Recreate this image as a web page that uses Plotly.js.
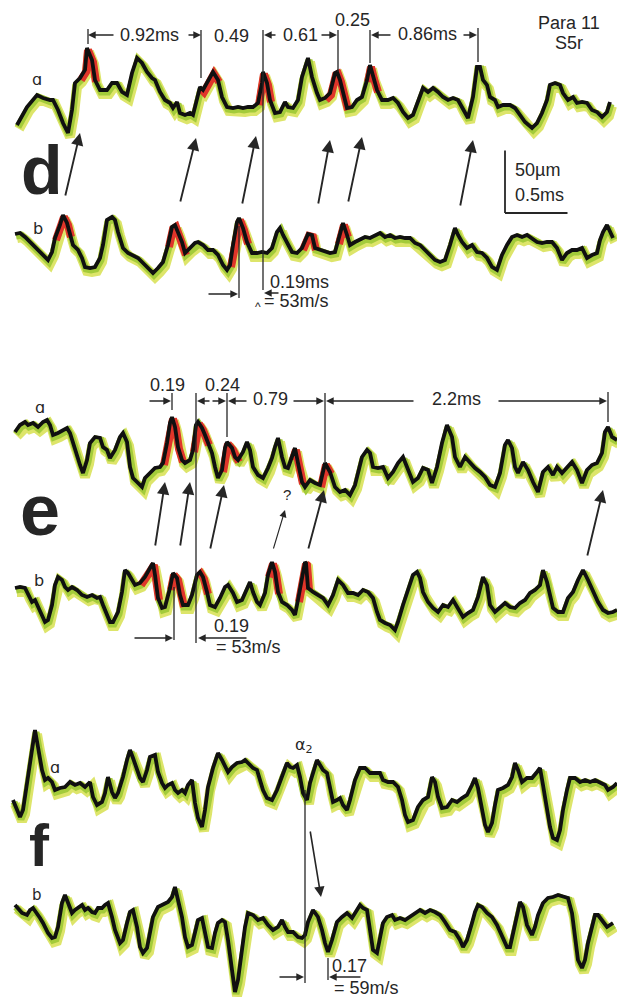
<!DOCTYPE html>
<html><head><meta charset="utf-8">
<script src="https://cdn.plot.ly/plotly-3.0.1.min.js"></script>
<style>html,body{margin:0;padding:0;background:#fff}#chart{width:617px;height:997px}</style>
</head><body><div id="chart"></div>
<script>
// ---- Data: time in microseconds, displacement in micrometres ----
// Panel d, trace a
const t_dA = [136,216,296,344,400,424,464,504,544,576,600,640,680,696,736,760,800,856,896,936,976,1016,1056,1096,1136,1176,1216,1240,1280,1320,1360,1384,1416,1440,1480,1520,1544,1576,1600,1624,1656,1704,1744,1776,1816,1864,1904,1944,1984,2024,2064,2096,2104,2136,2160,2200,2240,2280,2304,2344,2384,2416,2464,2496,2536,2560,2600,2640,2680,2696,2720,2744,2776,2816,2856,2896,2936,2960,2984,3016,3056,3104,3144,3184,3224,3264,3304,3344,3384,3424,3464,3504,3544,3584,3624,3664,3704,3744,3784,3816,3840,3864,3896,3920,3960,3984,4024,4080,4120,4160,4200,4256,4296,4336,4376,4400,4440,4480,4504,4544,4584,4616,4656,4696,4736,4776,4816,4856,4880];
const v_dA = [-20,-5.6,4,1.6,0,0,-8,-18.4,-26.4,-8,13.6,17.6,24,41.6,32,16,8,8,13.6,13.6,6.4,4,21.6,33.6,29.6,22.4,17.6,16,6.4,0,-2.4,-6.4,-1.6,-10.4,-12,-10.4,-12,0,10.4,8,13.6,22.4,16,2.4,-5.6,-6.4,-5.6,-6.4,-5.6,-5.6,-2.4,13.6,22.4,13.6,0,-10.4,-9.6,-1.6,-5.6,-6.4,0,18.4,33.6,18.4,5.6,0,1.6,5.6,21.6,22.4,16,5.6,-6.4,-5.6,0,2.4,16,28,18.4,8,0,0,1.6,-2.4,-9.6,-14.4,-12,0,9.6,6.4,9.6,6.4,2.4,0,1.6,0,-8,-14.4,2.4,26.4,26.4,16,12,2.4,0,-5.6,-4,-4,-6.4,-12,-17.6,-22.4,-18.4,-10.4,0,12,13.6,12,5.6,0,2.4,-2.4,-1.6,-2.4,-8,-9.6,-13.6,-9.6,-1.6];
const red_dA = [[608,768],[1584,1760],[2056,2168],[2600,2776],[2920,3040]];
// Panel d, trace b
const t_dB = [120,160,200,240,296,344,384,416,440,480,504,536,560,584,624,656,680,720,760,800,824,856,896,920,944,984,1024,1064,1104,1144,1184,1224,1264,1304,1344,1376,1400,1424,1456,1480,1520,1560,1584,1624,1664,1704,1744,1784,1816,1840,1864,1896,1912,1944,1976,2016,2056,2096,2136,2176,2216,2240,2264,2296,2336,2376,2416,2464,2496,2520,2560,2600,2640,2680,2704,2744,2776,2800,2840,2880,2920,2960,3000,3040,3080,3120,3160,3200,3240,3280,3320,3360,3400,3440,3480,3520,3560,3600,3640,3664,3696,3736,3776,3816,3856,3896,3936,3976,4016,4056,4096,4136,4176,4216,4256,4296,4336,4376,4416,4456,4496,4536,4576,4616,4656,4696,4736,4776,4800,4824,4856,4880,4904];
const v_dB = [8.8,9.6,6.4,2.4,-2.4,-8,-12,-5.6,5.6,16,24,17.6,8,0,-4,-10.4,-17.6,-18.4,-17.6,-10.4,0,20,22.4,20,10.4,-2.4,-6.4,-8,-10.4,-14.4,-18.4,-22.4,-18.4,-13.6,0,14.4,16,10.4,2.4,-6.4,-2.4,1.6,2.4,0,-4,-4,-8,-16,-20,-16,0,18.4,21.6,13.6,2.4,-6.4,-6.4,-5.6,-6.4,-2.4,10.4,13.6,8,1.6,-5.6,-6.4,-2.4,8.8,8,-2.4,-4,-5.6,-6.4,-5.6,2.4,17.6,8,0,2.4,4,6.4,5.6,8,9.6,6.4,8,5.6,6.4,5.6,5.6,1.6,0,-4,-8,-12,-13.6,-12,0,13.6,8,2.4,-2.4,0,-5.6,-6.4,-10.4,-17.6,-20,-8,0,6.4,8,6.4,8,5.6,2.4,1.6,2.4,2.4,-2.4,-12,-6.4,-4,-4,-2.4,-10.4,-8,-6.4,4,10.4,16,10.4,5.6];
const red_dB = [[440,560],[1344,1480],[1840,2000],[2384,2520],[2704,2784]];
// Panel e, trace a
const t_eA = [120,160,200,224,264,304,344,376,400,424,464,504,536,560,600,640,664,696,720,760,800,824,856,880,920,960,984,1016,1040,1064,1104,1136,1160,1200,1240,1280,1304,1336,1360,1376,1400,1424,1456,1480,1520,1544,1568,1584,1616,1640,1664,1696,1720,1744,1776,1800,1816,1856,1880,1904,1944,1976,2000,2024,2064,2104,2144,2176,2200,2224,2256,2280,2304,2336,2360,2384,2416,2440,2464,2480,2520,2560,2600,2640,2680,2720,2760,2800,2840,2864,2896,2936,2960,2984,3024,3064,3104,3144,3184,3224,3264,3304,3344,3384,3424,3456,3496,3536,3576,3616,3640,3680,3720,3760,3800,3840,3880,3920,3960,4000,4040,4064,4096,4120,4144,4184,4224,4264,4304,4344,4384,4424,4456,4496,4536,4576,4616,4656,4696,4736,4776,4816,4840,4864,4896,4936];
const v_eA = [22.4,28,30.4,28,29.6,26.4,30.4,32,28,20,21.6,24,25.6,21.6,8,-4,-10.4,0,13.6,18.4,17.6,10.4,8,1.6,8,18.4,21.6,14.4,-5.6,-14.4,-18.4,-21.6,-14.4,-10.4,-6.4,-5.6,-2.4,13.6,29.6,34.4,26.4,10.4,0,-2.4,0,8,28,30.4,25.6,20,13.6,5.6,-5.6,-14.4,-8,9.6,14.4,9.6,2.4,0,6.4,14.4,8,-5.6,-12,-14.4,-6.4,1.6,10.4,17.6,2.4,-5.6,-6.4,1.6,9.6,-2.4,-17.6,-21.6,-18.4,-16,-18.4,-20,-2.4,-9.6,-21.6,-25.6,-24,-28,-20,-10.4,2.4,8,5.6,-5.6,-6.4,-5.6,-14.4,-9.6,-2.4,2.4,-8,-17.6,-14.4,-6.4,-8,-18.4,-5.6,13.6,28,18.4,2.4,-5.6,2.4,-2.4,-6.4,-9.6,-13.6,-20,-21.6,-10.4,12,16,9.6,-5.6,-10.4,-1.6,-8,-17.6,-25.6,-9.6,-5.6,-12,-5.6,-10.4,-5.6,-1.6,-8,-18.4,-8,-4,-2.4,5.6,22.4,26.4,18.4,16];
const red_eA = [[1304,1456],[1544,1680],[1776,1904],[2320,2424],[2544,2664]];
// Panel e, trace b
const t_eB = [120,160,200,224,256,280,304,336,360,384,416,440,464,496,520,544,576,616,656,696,736,776,800,824,856,880,904,944,976,1000,1024,1056,1080,1120,1160,1200,1224,1240,1264,1296,1320,1360,1384,1416,1440,1464,1504,1536,1576,1600,1624,1656,1680,1720,1760,1800,1824,1864,1896,1936,1976,2000,2024,2056,2080,2120,2144,2176,2200,2224,2256,2296,2336,2360,2384,2416,2440,2448,2464,2504,2544,2584,2624,2664,2704,2744,2784,2824,2864,2904,2944,2984,3016,3040,3080,3120,3160,3184,3224,3264,3304,3336,3360,3384,3424,3464,3504,3544,3584,3624,3664,3704,3744,3784,3824,3864,3896,3920,3960,4000,4040,4080,4120,4160,4200,4240,4280,4320,4344,4376,4400,4424,4464,4504,4544,4584,4624,4664,4704,4744,4784,4824,4864,4904,4936];
const v_eB = [9.6,10.4,9.6,4,-1.6,0,-5.6,-12,-17.6,-16,-4,12,18.4,16,10.4,8,10.4,8,4,2.4,4,1.6,2.4,-4,-12,-17.6,-17.6,-9.6,6.4,24,21.6,16,12,13.6,18.4,25.6,29.6,20,1.6,-6.4,-5.6,9.6,21.6,17.6,4,-4,-4,4,20,22.4,18.4,6.4,-4,-5.6,1.6,10.4,12,5.6,-1.6,0,8,14.4,6.4,-1.6,-4,5.6,20,30.4,22.4,6.4,-1.6,-4,-8,-12,0,17.6,30.4,29.6,9.6,6.4,4,1.6,-4,4,16,12,5.6,5.6,4,8,6.4,1.6,-9.6,-16,-18.4,-20,-24,-17.6,-4,8,20,22.4,17.6,6.4,-1.6,-6.4,-9.6,-4,-5.6,0,-6.4,-13.6,-10.4,-8,2.4,18.4,12,-4,-9.6,-6.4,-2.4,-5.6,-6.4,-2.4,0,5.6,8,12,24,14.4,2.4,-6.4,-9.6,-9.6,1.6,6.4,16,24,16,6.4,-1.6,-8,-10.4,-9.6,-8];
const red_eB = [[1120,1280],[1336,1480],[1544,1664],[2128,2224],[2384,2480]];
// Panel f, trace a
const t_fA = [104,136,160,184,216,256,280,304,336,360,384,416,440,480,520,560,600,640,680,720,744,776,816,840,864,896,920,944,984,1016,1040,1064,1096,1120,1144,1176,1200,1240,1264,1296,1320,1344,1376,1400,1424,1456,1480,1504,1536,1560,1584,1616,1640,1664,1704,1744,1776,1800,1824,1856,1896,1936,1960,1984,2024,2056,2080,2104,2136,2176,2216,2256,2296,2320,2344,2376,2400,2424,2456,2480,2504,2536,2560,2584,2616,2640,2664,2696,2720,2744,2776,2800,2840,2880,2920,2960,3000,3040,3064,3104,3144,3184,3216,3240,3264,3304,3344,3384,3424,3456,3480,3504,3536,3576,3616,3656,3696,3736,3776,3800,3824,3856,3880,3904,3936,3960,3984,4024,4064,4096,4120,4144,4176,4216,4256,4296,4320,4344,4376,4400,4424,4456,4480,4504,4536,4560,4600,4640,4680,4720,4760,4800,4840,4864,4904,4936];
const v_fA = [-8,-16,-21.6,-16,5.6,32,48,34.4,16,8,9.6,6.4,0,1.6,2.4,6.4,4,5.6,2.4,6.4,-5.6,-12,-9.6,-2.4,10.4,-1.6,-6.4,-2.4,10.4,24,32,25.6,16,9.6,6.4,16,26.4,28,14.4,5.6,1.6,4,5.6,0,-2.4,0,-2.4,4,8,-10.4,-22.4,-29.6,-16,2.4,17.6,29.6,24,18.4,14.4,18.4,21.6,22.4,24,21.6,17.6,16,8,0,-6.4,-8,0,12,21.6,18.4,17.6,20,10.4,-2.4,-8,5.6,14.4,24,20,16,13.6,0,-9.6,-8,-6.4,-12,-16,-8,8,17.6,17.6,13.6,13.6,13.6,8,6.4,6.4,2.4,-8,-20,-25.6,-24,-13.6,-8,-5.6,10.4,6.4,-5.6,-14.4,-13.6,-8,-9.6,-6.4,-4,4,9.6,1.6,-13.6,-28,-33.6,-26.4,-12,0,1.6,4,10.4,21.6,16,6.4,9.6,9.6,14.4,17.6,4,-13.6,-29.6,-38.4,-40,-32,-16,0,9.6,9.6,6.4,8,6.4,8,5.6,4,0,2.4,5.6];
// Panel f, trace b
const t_fB = [120,144,176,216,240,264,296,320,344,384,416,440,464,496,520,544,576,600,624,656,680,704,736,760,784,816,840,864,896,920,960,984,1016,1040,1064,1096,1120,1144,1176,1200,1224,1264,1304,1344,1376,1400,1424,1456,1480,1504,1536,1560,1584,1616,1640,1664,1696,1720,1744,1776,1800,1824,1856,1880,1904,1936,1960,1984,2024,2064,2104,2144,2184,2224,2256,2280,2304,2344,2384,2416,2440,2464,2504,2544,2576,2600,2624,2656,2696,2736,2776,2816,2856,2880,2904,2936,2960,2984,3016,3040,3064,3096,3136,3160,3200,3240,3280,3320,3360,3400,3440,3480,3520,3560,3600,3640,3680,3704,3736,3776,3800,3824,3856,3896,3936,3976,4016,4056,4080,4104,4136,4160,4184,4216,4256,4280,4304,4344,4384,4424,4464,4504,4544,4576,4600,4624,4656,4680,4704,4736,4760,4784,4816,4856,4880,4904];
const v_fB = [12,9.6,5.6,4,8,9.6,5.6,1.6,-2.4,-10.4,-14.4,-13.6,-5.6,13.6,20,13.6,5.6,8,9.6,12,8,9.6,6.4,5.6,9.6,9.6,12,13.6,2.4,-8,-18.4,-16,-2.4,6.4,8,-5.6,-21.6,-26.4,-22.4,-10.4,2.4,10.4,12,14.4,18.4,26.4,16,2.4,-13.6,-21.6,-20,-9.6,0,1.6,-12,-21.6,-22.4,-10.4,-2.4,0,-1.6,-16,-40,-57.6,-48,-24,-5.6,5.6,4,0,1.6,-4,-8,-5.6,0,-5.6,-9.6,-9.6,-13.6,-14.4,-12,-1.6,8,2.4,-8,-18.4,-25.6,-16,-1.6,2.4,5.6,1.6,8,12,9.6,8,-8,-24,-26.4,-16,-2.4,2.4,4,0,1.6,0,2.4,5.6,8,5.6,8,6.4,4,-1.6,-8,-9.6,-16,-21.6,-16,-2.4,6.4,12,10.4,5.6,2.4,-4,-13.6,-21.6,-21.6,-10.4,1.6,14.4,10.4,-4,-12,-5.6,4,13.6,17.6,18.4,20,18.4,17.6,5.6,-16,-32,-38.4,-32,-18.4,-5.6,4,4,0,-5.6,-4,-2.4];

// ---- Layout geometry ----
const W = 617, H = 997;
const US_PER_PX = 8;      // time axis: 1 px = 8 us  (0.5 ms = 62.5 px)
const UM_PER_PX = 0.8;    // displacement: 1 px = 0.8 um (50 um = 62.5 px)
const panels = [
  {t:t_dA, v:v_dA, red:red_dA, base:100},
  {t:t_dB, v:v_dB, red:red_dB, base:245},
  {t:t_eA, v:v_eA, red:red_eA, base:460},
  {t:t_eB, v:v_eB, red:red_eB, base:600},
  {t:t_fA, v:v_fA, red:[],     base:790},
  {t:t_fB, v:v_fB, red:[],     base:920}
];
const SH_Y = {yellow:4, green:2};   // shadow offsets (px, downwards)
const SH_X = {yellow:2, green:1};   // shadow offsets (px, rightwards)
const COL = {black:'#101010', yellow:'#dde56a', green:'#a3cb3a', red:'#e0352a', ink:'#262626'};

const hid = {visible:false, showgrid:false, zeroline:false, fixedrange:true};
const layout = {
  width:W, height:H, margin:{l:0,r:0,t:0,b:0, pad:0},
  paper_bgcolor:'#ffffff', plot_bgcolor:'rgba(0,0,0,0)', showlegend:false,
  xaxis:  Object.assign({}, hid, {range:[-SH_X.yellow*US_PER_PX, (W-SH_X.yellow)*US_PER_PX]}),
  xaxis2: Object.assign({}, hid, {overlaying:'x', range:[-SH_X.green*US_PER_PX, (W-SH_X.green)*US_PER_PX]}),
  xaxis3: Object.assign({}, hid, {overlaying:'x', range:[0, W*US_PER_PX]}),
  shapes:[], annotations:[]
};
function yRange(base, dy){
  const r0 = (base - H)*UM_PER_PX + dy*UM_PER_PX;
  return [r0, r0 + H*UM_PER_PX];
}
const axName = n => n===1 ? 'y' : 'y'+n;
const axKey  = n => n===1 ? 'yaxis' : 'yaxis'+n;

const yellowT=[], greenT=[], blackT=[];
panels.forEach((p,k)=>{
  const ny = k+1, ng = k+7, nb = k+13;
  layout[axKey(ny)] = Object.assign({}, hid, {range:yRange(p.base, SH_Y.yellow)}, ny===1?{}:{overlaying:'y'});
  layout[axKey(ng)] = Object.assign({}, hid, {range:yRange(p.base, SH_Y.green), overlaying:'y'});
  layout[axKey(nb)] = Object.assign({}, hid, {range:yRange(p.base, 0), overlaying:'y'});
  yellowT.push({x:p.t, y:p.v, xaxis:'x', yaxis:axName(ny), mode:'lines', line:{color:COL.yellow, width:10}, hoverinfo:'skip'});
  greenT.push({x:p.t, y:p.v, xaxis:'x2', yaxis:axName(ng), mode:'lines', line:{color:COL.green, width:7}, hoverinfo:'skip'});
  p.red.forEach(iv=>{
    const xs=[], ys=[];
    p.t.forEach((tt,i)=>{ if(tt>=iv[0] && tt<=iv[1]){ xs.push(tt); ys.push(p.v[i]); } });
    if(xs.length>1) greenT.push({x:xs, y:ys, xaxis:'x2', yaxis:axName(ng), mode:'lines', line:{color:COL.red, width:8}, hoverinfo:'skip'});
  });
  blackT.push({x:p.t, y:p.v, xaxis:'x3', yaxis:axName(nb), mode:'lines', line:{color:COL.black, width:3.8}, hoverinfo:'skip'});
});
const traces = yellowT.concat(greenT, blackT);

// ---- Annotation helpers (pixel positions of the figure's labels) ----
const X = px => px*US_PER_PX;
const Y = py => 1 - py/H;
const FONT = 'Liberation Sans, Arial, sans-serif';
function txt(s, px, py, size, extra){
  layout.annotations.push(Object.assign({text:s, x:X(px), y:Y(py), xref:'x3', yref:'paper', showarrow:false,
    xanchor:'center', yanchor:'middle', font:{family:FONT, size:size||18, color:COL.ink}}, extra||{}));
}
function arr(tx, ty, hx, hy, w, hs){
  layout.annotations.push({text:'', x:X(hx), y:Y(hy), xref:'x3', yref:'paper', showarrow:true,
    ax:tx-hx, ay:ty-hy, axref:'pixel', ayref:'pixel', arrowhead:2, arrowsize:hs||1.1, arrowwidth:w||1.4,
    arrowcolor:COL.ink, standoff:0, startstandoff:0});
}
function vline(px, y0, y1, w){
  layout.shapes.push({type:'line', xref:'x3', yref:'paper', x0:X(px), x1:X(px), y0:Y(y0), y1:Y(y1),
    line:{color:COL.ink, width:w||1.3}});
}
const SMALL = {family:'DejaVu Sans, sans-serif', size:16, color:COL.ink};

// Panel d
txt('0.92ms',149,35); txt('0.49',231,36); txt('0.61',300,35); txt('0.25',352,20); txt('0.86ms',427,34);
txt('Para 11',569,23); txt('S5r',569,43);
txt('50µm',537,170); txt('0.5ms',539,195);
txt('0.19ms',268,282,18,{xanchor:'left'}); txt('= 53m/s',262,301,18,{xanchor:'left'});
txt('^',258,307,12);
txt('<b>d</b>',42,170,68);
txt('ɑ',37,80,16,{font:SMALL});
txt('b',38,229,16,{font:SMALL});
vline(88,29,44); vline(201,30,78); vline(263,30,290); vline(338,30,72); vline(370,30,63); vline(478,28,62); vline(239,226,298);
arr(115,35,88,35); arr(187,35,201,35); arr(277,35,264,35); arr(320,35,337,35); arr(392,35,371,35); arr(462,35,477,35);
[[65,197,80,133],[180,203,196,138],[242,205,256,136],[318,205,330,140],[348,203,362,137],[460,207,473,140]]
  .forEach(a=>arr(a[0],a[1],a[2],a[3],1.9,1.3));
arr(207,294,238,294); arr(280,293,264,293);
// scale bar drawn in data units on the d-a axes
layout.shapes.push({type:'line', xref:'x3', yref:'y13', x0:4040, x1:4040, y0:-90.4, y1:-90.4+50, line:{color:COL.ink, width:1.8}});
layout.shapes.push({type:'line', xref:'x3', yref:'y13', x0:4040, x1:4040+500, y0:-90.4, y1:-90.4, line:{color:COL.ink, width:1.8}});

// Panel e
txt('0.19',167,385); txt('0.24',222,385); txt('0.79',270,399); txt('2.2ms',456,399);
txt('?',287,494,15);
txt('<b>e</b>',40,510,72);
txt('ɑ',40,407,16,{font:SMALL});
txt('b',39,580,16,{font:SMALL});
txt('0.19',231,626); txt('= 53m/s',248,647);
vline(172,393,410); vline(196,393,643); vline(227,393,437); vline(325,393,462); vline(608,392,422); vline(174,587,640);
arr(148,401,171,401); arr(211,401,197,401); arr(211,401,226,401); arr(248,401,228,401);
arr(292,401,324,401); arr(415,401,326,401); arr(497,401,607,401);
[[155,547,165,482],[180,547,190,482],[210,550,224,485],[308,550,324,490],[587,557,603,490]]
  .forEach(a=>arr(a[0],a[1],a[2],a[3],1.9,1.3));
arr(273,550,285,510,1.1,1.3);
arr(133,638,173,638); arr(248,638,198,638);

// Panel f
txt('<b>f</b>',39,845,60);
txt('ɑ',55,767,16,{font:SMALL});
txt('b',37,895,15,{font:Object.assign({}, SMALL, {size:15})});
txt('α<sub>2</sub>',304,745,16,{font:SMALL});
txt('0.17',349,966); txt('= 59m/s',366,988);
vline(305,790,983); vline(328,958,980);
arr(310,830,321,897,1.6,1.3);
arr(278,977,304,977); arr(362,977,329,977);

Plotly.newPlot('chart', traces, layout, {staticPlot:true, displayModeBar:false});
</script>
</body></html>
